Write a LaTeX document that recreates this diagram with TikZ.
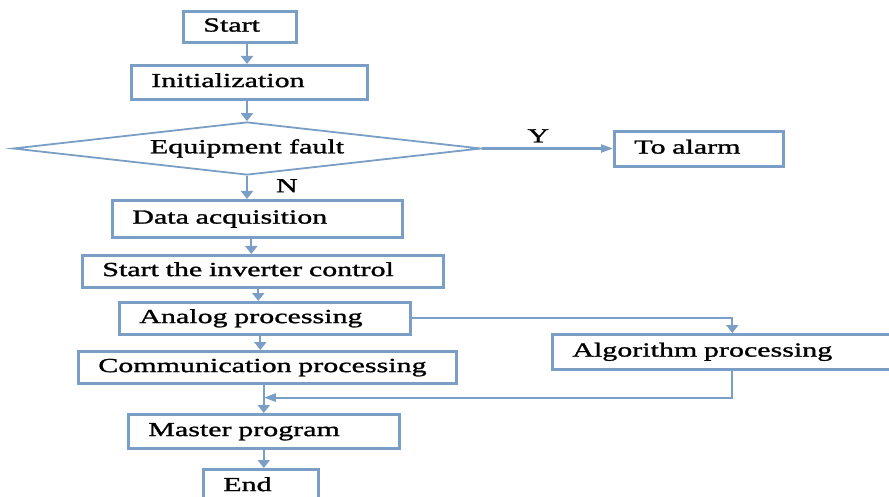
\documentclass[tikz,border=0pt]{standalone}
\usepackage{fontspec}
\setmainfont{Liberation Serif}[FakeStretch=1.5,FakeBold=1.3]
\usetikzlibrary{arrows.meta,shapes.geometric}
\definecolor{flowblue}{RGB}{122,158,198}
\begin{document}
\begin{tikzpicture}[x=1pt,y=-1pt,
    box/.style 2 args={draw=flowblue, line width=2.6pt, anchor=north west,
        inner xsep=20pt, inner ysep=0pt, text width=#1, minimum height=#2,
        align=left, font=\fontsize{20}{24}\selectfont, text height=0.96em, text depth=0pt},
    decision/.style={diamond, aspect=8.83, draw=flowblue, line width=1.8pt, inner sep=0pt,
        minimum width=468pt, minimum height=53pt,
        font=\fontsize{20}{24}\selectfont, text height=0.96em, text depth=0pt},
    lab/.style={inner sep=0pt, font=\fontsize{20}{24}\selectfont, text height=0.96em, text depth=0pt},
    arr/.style={draw=flowblue, line width=2.2pt, -{Triangle[length=8pt,width=12pt]}},
    harr/.style={draw=flowblue, line width=2.2pt, -{Triangle[length=12pt,width=8pt]}}]
    \clip (0,0) rectangle (889,497);
    \node[box={73pt}{31pt}] (start) at (182,10) {Start};
    \node[box={196pt}{34pt}] (init) at (130,64) {Initialization};
    \node[decision] (fault) at (247,148.5) {Equipment fault};
    \node[box={129pt}{35pt}] (alarm) at (613,130) {To alarm};
    \node[box={250pt}{37pt}] (data) at (111,199) {Data acquisition};
    \node[box={321pt}{32pt}] (inverter) at (81,254) {Start the inverter control};
    \node[box={251pt}{32pt}] (analog) at (118,301) {Analog processing};
    \node[box={338pt}{32pt}] (comm) at (77,350) {Communication processing};
    \node[box={320pt}{35pt}] (algo) at (551,333) {Algorithm processing};
    \node[box={231pt}{34pt}] (master) at (127,413) {Master program};
    \node[box={75pt}{34pt}] (end) at (202,468) {End};

    \draw[arr] (start.south -| fault.north) -- (init.north -| fault.north);
    \draw[arr] (init.south -| fault.north) -- (fault.north);
    \draw[harr] (fault.east) -- node[lab, pos=0.43, above=5pt] (ylab) {Y} (fault.east -| alarm.west);
    \draw[arr] (fault.south) -- node[lab, right=28pt] (nlab) {N} (fault.south |- data.north);
    \draw[arr] ([xshift=-6pt]data.south) -- ([xshift=-6pt]data.south |- inverter.north);
    \draw[arr] ([xshift=-4.5pt]inverter.south) -- ([xshift=-4.5pt]inverter.south |- analog.north);
    \draw[arr] ([xshift=-4.5pt]analog.south) -- ([xshift=-4.5pt]analog.south |- comm.north);
    \draw[arr] (comm.south -| master.north) -- (master.north);
    \draw[arr] (master.south) -- (master.south |- end.north);
    \draw[arr] (analog.east) -| (algo.north);
    \draw[harr] (algo.south) |- ([yshift=-13pt]comm.south -| master.north);
\end{tikzpicture}
\end{document}
